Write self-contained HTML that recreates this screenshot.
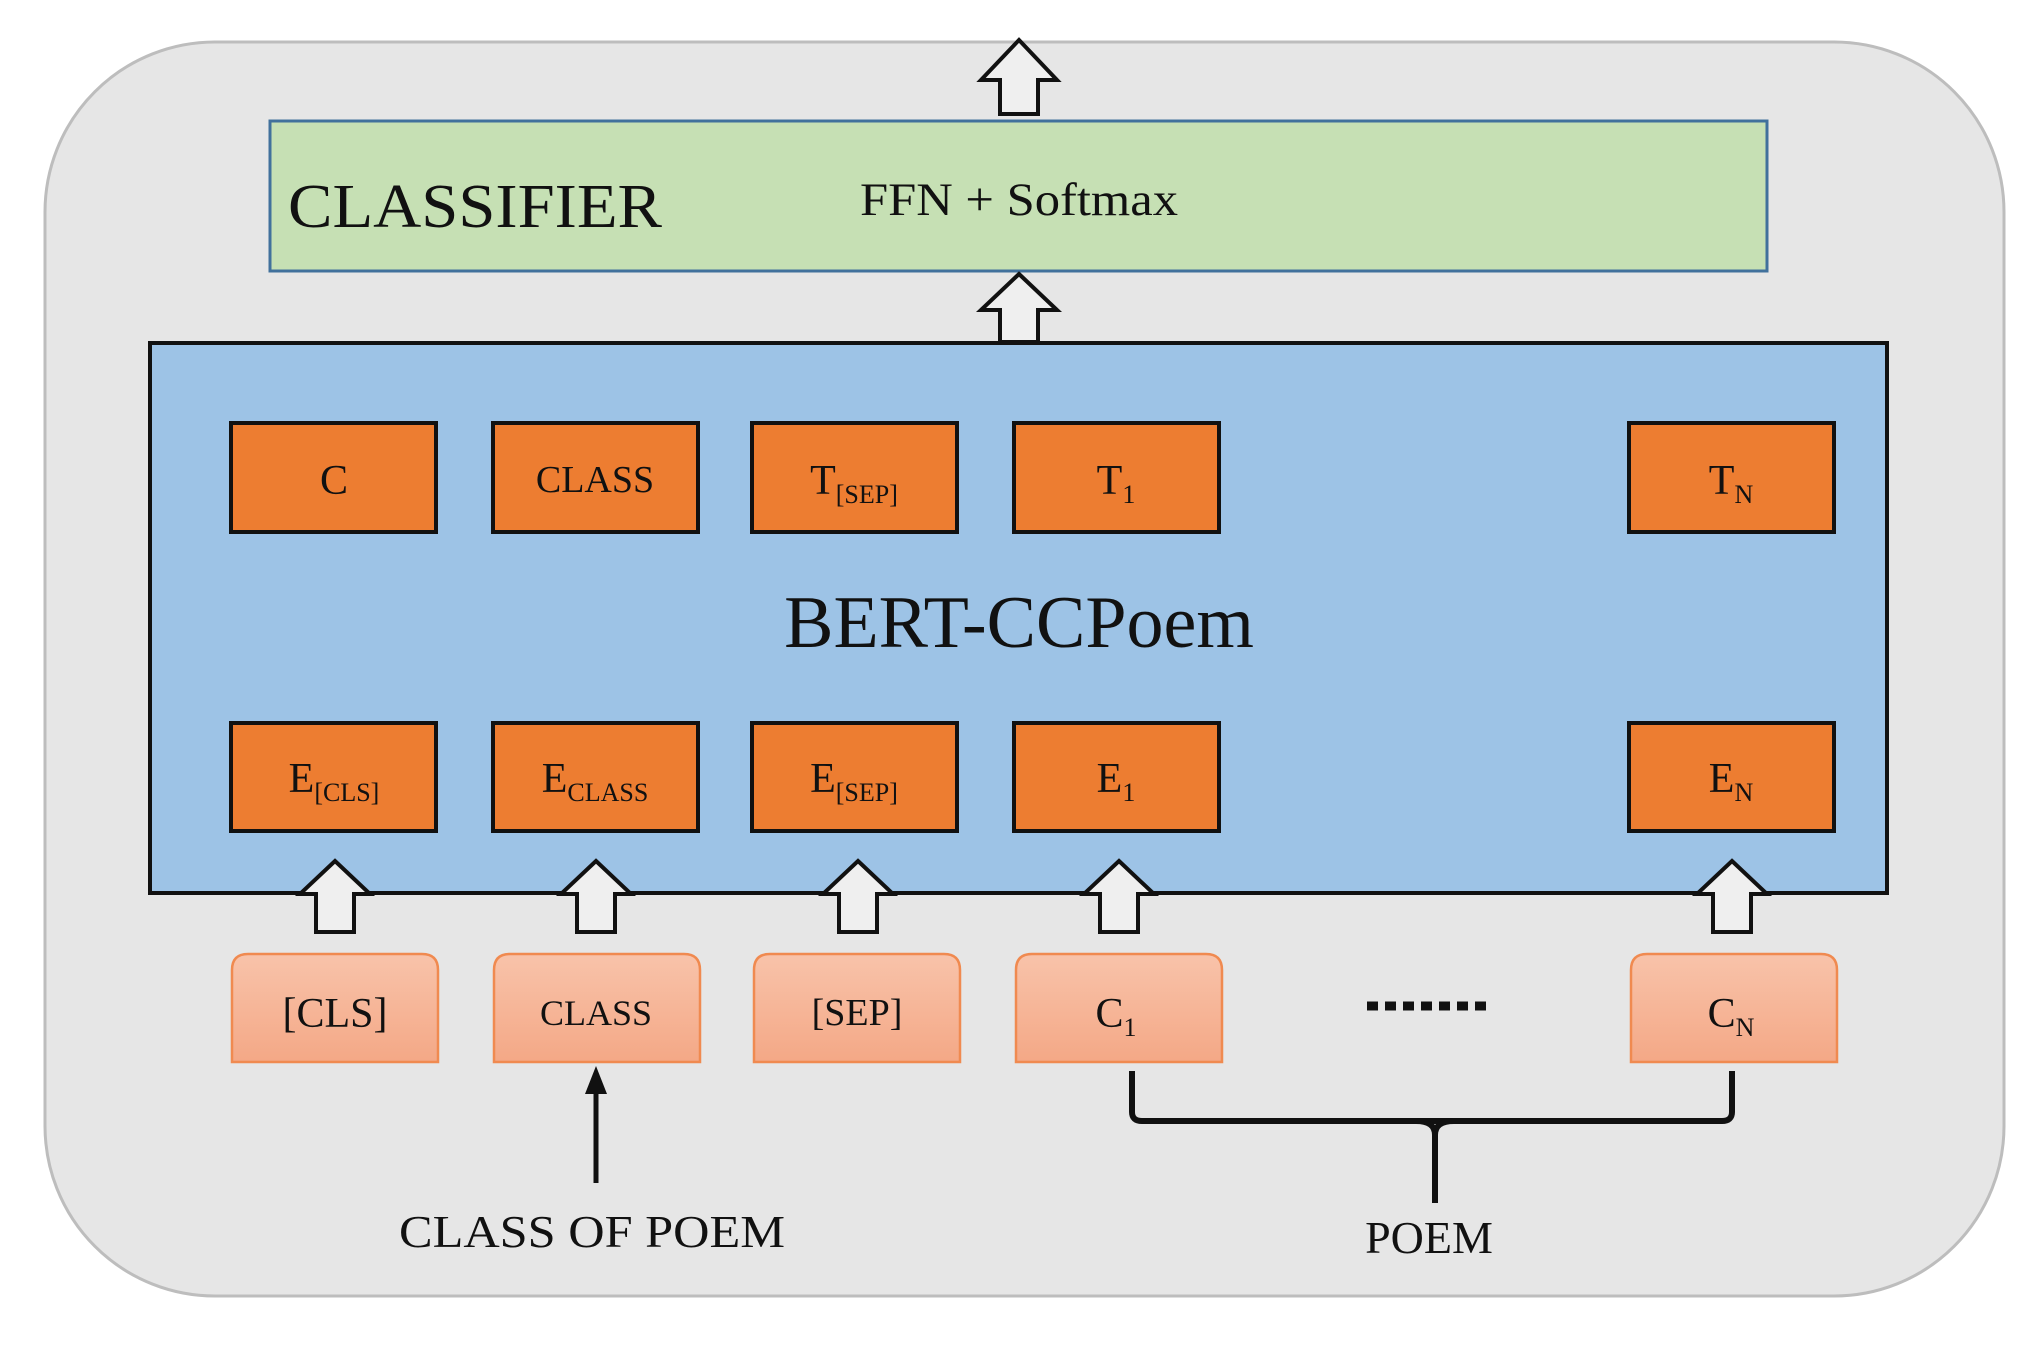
<!DOCTYPE html>
<html><head><meta charset="utf-8"><style>
html,body{margin:0;padding:0;background:#fff;}
svg{display:block;}
text{font-family:"Liberation Serif",serif;fill:#111;}
</style></head><body>
<svg width="2031" height="1349" viewBox="0 0 2031 1349" xmlns="http://www.w3.org/2000/svg">
<defs>
<linearGradient id="g" x1="0" y1="0" x2="0" y2="1">
<stop offset="0" stop-color="#f8c3aa"/><stop offset="1" stop-color="#f4a886"/>
</linearGradient>
</defs>
<rect x="45" y="42" width="1959" height="1254" rx="170" fill="#e6e6e6" stroke="#bdbdbd" stroke-width="3"/>
<path d="M1019 40 L1057 80 L1038 80 L1038 114 L1000 114 L1000 80 L981 80 Z" fill="#efefef" stroke="#111" stroke-width="4"/>
<rect x="270" y="121" width="1497" height="150" fill="#c6e0b4" stroke="#41719c" stroke-width="3"/>
<text x="288" y="227" font-size="62" textLength="374" lengthAdjust="spacingAndGlyphs">CLASSIFIER</text>
<text x="860" y="215" font-size="47" textLength="318" lengthAdjust="spacingAndGlyphs">FFN + Softmax</text>
<path d="M1019 274 L1057 310 L1038 310 L1038 342 L1000 342 L1000 310 L981 310 Z" fill="#efefef" stroke="#111" stroke-width="4"/>
<rect x="150" y="343" width="1737" height="550" fill="#9dc3e6" stroke="#111" stroke-width="4"/>
<text x="1019" y="647" font-size="74" text-anchor="middle">BERT-CCPoem</text>
<g fill="#ed7d31" stroke="#111" stroke-width="4">
<rect x="231" y="423" width="205" height="109"/><rect x="493" y="423" width="205" height="109"/>
<rect x="752" y="423" width="205" height="109"/><rect x="1014" y="423" width="205" height="109"/>
<rect x="1629" y="423" width="205" height="109"/>
<rect x="231" y="723" width="205" height="108"/><rect x="493" y="723" width="205" height="108"/>
<rect x="752" y="723" width="205" height="108"/><rect x="1014" y="723" width="205" height="108"/>
<rect x="1629" y="723" width="205" height="108"/>
</g>
<g font-size="42" text-anchor="middle">
<text x="334" y="494">C</text>
<text x="595" y="492" font-size="38">CLASS</text>
<text x="854" y="494">T<tspan font-size="26" dy="9">[SEP]</tspan></text>
<text x="1116" y="494">T<tspan font-size="26" dy="9">1</tspan></text>
<text x="1731" y="494">T<tspan font-size="26" dy="9">N</tspan></text>
<text x="334" y="792">E<tspan font-size="26" dy="9">[CLS]</tspan></text>
<text x="595" y="792">E<tspan font-size="26" dy="9">CLASS</tspan></text>
<text x="854" y="792">E<tspan font-size="26" dy="9">[SEP]</tspan></text>
<text x="1116" y="792">E<tspan font-size="26" dy="9">1</tspan></text>
<text x="1731" y="792">E<tspan font-size="26" dy="9">N</tspan></text>
</g>
<g fill="#efefef" stroke="#111" stroke-width="4">
<path d="M335 861 L370 894 L354 894 L354 932 L316 932 L316 894 L300 894 Z"/>
<path d="M596 861 L631 894 L615 894 L615 932 L577 932 L577 894 L561 894 Z"/>
<path d="M858 861 L893 894 L877 894 L877 932 L839 932 L839 894 L823 894 Z"/>
<path d="M1119 861 L1154 894 L1138 894 L1138 932 L1100 932 L1100 894 L1084 894 Z"/>
<path d="M1732 861 L1767 894 L1751 894 L1751 932 L1713 932 L1713 894 L1697 894 Z"/>
</g>
<g fill="url(#g)" stroke="#f08a50" stroke-width="2.5">
<path d="M232 1062 L232 970 Q232 954 248 954 L422 954 Q438 954 438 970 L438 1062 Z"/>
<path d="M494 1062 L494 970 Q494 954 510 954 L684 954 Q700 954 700 970 L700 1062 Z"/>
<path d="M754 1062 L754 970 Q754 954 770 954 L944 954 Q960 954 960 970 L960 1062 Z"/>
<path d="M1016 1062 L1016 970 Q1016 954 1032 954 L1206 954 Q1222 954 1222 970 L1222 1062 Z"/>
<path d="M1631 1062 L1631 970 Q1631 954 1647 954 L1821 954 Q1837 954 1837 970 L1837 1062 Z"/>
</g>
<g font-size="42" text-anchor="middle">
<text x="335" y="1027">[CLS]</text>
<text x="596" y="1025" font-size="36">CLASS</text>
<text x="857" y="1025" font-size="38">[SEP]</text>
<text x="1116" y="1027">C<tspan font-size="26" dy="9">1</tspan></text>
<text x="1731" y="1027">C<tspan font-size="26" dy="9">N</tspan></text>
</g>
<line x1="1367" y1="1006" x2="1490" y2="1006" stroke="#111" stroke-width="9" stroke-dasharray="11 7"/>
<line x1="596" y1="1183" x2="596" y2="1090" stroke="#111" stroke-width="5"/>
<path d="M596 1066 L607 1094 L585 1094 Z" fill="#111"/>
<text x="592" y="1247" font-size="46" text-anchor="middle" textLength="386" lengthAdjust="spacingAndGlyphs">CLASS OF POEM</text>
<path d="M1132 1071 L1132 1112 Q1132 1121 1142 1121 L1722 1121 Q1732 1121 1732 1112 L1732 1071" fill="none" stroke="#111" stroke-width="6"/>
<path d="M1416 1121 Q1435 1121 1435 1135 Q1435 1121 1454 1121" fill="none" stroke="#111" stroke-width="6"/>
<line x1="1435" y1="1125" x2="1435" y2="1203" stroke="#111" stroke-width="6"/>
<text x="1429" y="1253" font-size="46" text-anchor="middle">POEM</text>
</svg>
</body></html>
